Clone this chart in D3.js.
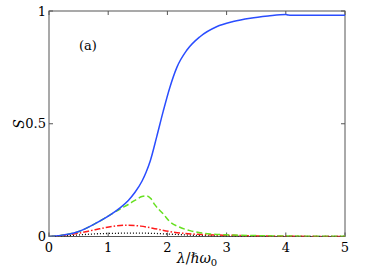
<!DOCTYPE html>
<html><head><meta charset="utf-8">
<script src="https://cdn.jsdelivr.net/npm/d3@7"></script>
<style>body{margin:0;background:#fff}svg{display:block}</style>
</head><body>
<svg id="c" width="382" height="277"></svg>
<script>
const xTicks = [0,1,2,3,4,5];
const yTicks = [0,0.5,1];
const yTickLabels = ["0","0.5","1"];
const blueX = [0,0.2,0.49,0.78,1.06,1.2,1.34,1.45,1.57,1.64,1.71,1.82,1.93,2.04,2.16,2.33,2.55,2.83,3.11,3.4,3.7,4.0,4.04,4.1,5];
const blueY = [0,0.005,0.021,0.057,0.1,0.127,0.16,0.195,0.245,0.285,0.335,0.443,0.556,0.66,0.75,0.827,0.886,0.93,0.953,0.968,0.978,0.985,0.982,0.981,0.981];
const greenX = [0,0.2,0.49,0.78,1.06,1.2,1.34,1.45,1.57,1.65,1.72,1.79,1.93,2.04,2.21,2.38,2.55,2.72,3.06,3.5,4,5];
const greenY = [0,0.005,0.021,0.057,0.1,0.122,0.142,0.16,0.177,0.18,0.168,0.14,0.1,0.066,0.041,0.026,0.017,0.011,0.007,0.004,0.002,0.001];
const redX = [0,0.2,0.49,0.78,1.06,1.3,1.55,1.75,2.04,2.27,2.5,3.1,3.6,4,5];
const redY = [0,0.004,0.014,0.03,0.044,0.05,0.046,0.037,0.022,0.014,0.01,0.005,0.002,0.001,0];
const blackX = [0,0.2,0.5,0.8,1.1,1.4,1.75,2.0,2.3,2.7,3.2,4,5];
const blackY = [0,0.002,0.007,0.012,0.014,0.015,0.014,0.011,0.007,0.003,0.001,0,0];

const FF = "DejaVu Serif";
const svg = d3.select("#c");
const L=49, R=345, T=11, B=236.5;
const x = d3.scaleLinear().domain([0,5]).range([L,R]);
const y = d3.scaleLinear().domain([0,1]).range([B,T]);

svg.append("rect").attr("x",L).attr("y",T).attr("width",R-L).attr("height",B-T)
  .attr("fill","none").attr("stroke","#555").attr("stroke-width",1);

const tl=4;
xTicks.forEach(t=>{
  svg.append("line").attr("x1",x(t)).attr("x2",x(t)).attr("y1",B).attr("y2",B-tl).attr("stroke","#555");
  svg.append("line").attr("x1",x(t)).attr("x2",x(t)).attr("y1",T).attr("y2",T+tl).attr("stroke","#555");
  svg.append("text").attr("x",x(t)).attr("y",B+15).attr("text-anchor","middle")
    .attr("font-family",FF).attr("font-size",13).text(t);
});
yTicks.forEach((t,i)=>{
  svg.append("line").attr("x1",L).attr("x2",L+tl).attr("y1",y(t)).attr("y2",y(t)).attr("stroke","#555");
  svg.append("line").attr("x1",R).attr("x2",R-tl).attr("y1",y(t)).attr("y2",y(t)).attr("stroke","#555");
  svg.append("text").attr("x",L-3).attr("y",y(t)+4.5).attr("text-anchor","end")
    .attr("font-family",FF).attr("font-size",13).text(yTickLabels[i]);
});

const line = d3.line().x(d=>x(d[0])).y(d=>y(d[1])).curve(d3.curveMonotoneX);
const zip=(a,b)=>a.map((v,i)=>[v,b[i]]);
svg.append("clipPath").attr("id","clp").append("rect").attr("x",L).attr("y",T-2).attr("width",R-L).attr("height",B-T+2);
const g=svg.append("g").attr("clip-path","url(#clp)");
g.append("path").attr("d",line(zip(blackX,blackY))).attr("fill","none").attr("stroke","#000").attr("stroke-width",1.3).attr("stroke-dasharray","1,2");
g.append("path").attr("d",line(zip(redX,redY))).attr("fill","none").attr("stroke","#ff1a1a").attr("stroke-width",1.5).attr("stroke-dasharray","6,2,1.5,2");
g.append("path").attr("d",line(zip(greenX,greenY))).attr("fill","none").attr("stroke","#66e020").attr("stroke-width",1.5).attr("stroke-dasharray","6,3");
g.append("path").attr("d",line(zip(blueX,blueY))).attr("fill","none").attr("stroke","#2a4dff").attr("stroke-width",1.5);

svg.append("text").attr("x",79).attr("y",50).attr("font-family",FF).attr("font-size",13).text("(a)");
svg.append("text").attr("transform","translate(24,124) rotate(-90)").attr("text-anchor","middle")
  .attr("font-family",FF).attr("font-style","italic").attr("font-size",14).text("S");
const xl=svg.append("text").attr("x",197).attr("y",263).attr("text-anchor","middle").attr("font-family",FF).attr("font-size",14);
xl.append("tspan").attr("font-style","italic").text("λ");
xl.append("tspan").text("/");
xl.append("tspan").attr("font-style","italic").text("ℏω");
xl.append("tspan").attr("font-size",10).attr("dy",3).text("0");
</script>
</body></html>
